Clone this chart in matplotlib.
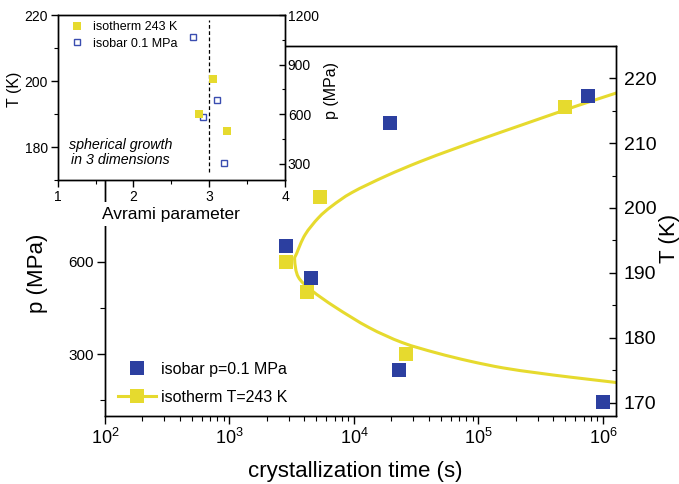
import numpy as np
import matplotlib
matplotlib.use("Agg")
import matplotlib.pyplot as plt
from matplotlib.lines import Line2D
from matplotlib.path import Path
from matplotlib.patches import PathPatch
from matplotlib.ticker import MultipleLocator, FixedLocator, LogLocator, NullFormatter

plt.rcParams['font.family'] = ['Liberation Sans', 'DejaVu Sans']
plt.rcParams['axes.linewidth'] = 1.0

BLUE = '#2c3fa0'
YELLOW = '#e6da2e'

# isobar p = 0.1 MPa, temperature on the right axis
isobar_time = [2.83e3, 4.54e3, 1.94e4, 2.30e4, 7.6e5, 1.0e6]
isobar_T = [194.2, 189.2, 213.1, 175.1, 217.2, 170.1]

# isotherm T = 243 K, pressure on the left axis
isotherm_time = [2.86e3, 4.17e3, 5.36e3, 2.62e4, 5.0e5]
isotherm_p = [600, 500, 810, 300, 1100]

# fitted isotherm curve (upper branch -> nose -> lower branch)
fit_time = [1.36e6, 7.50e5, 5.16e5, 2.16e5, 1.16e5, 6.24e4, 3.35e4, 1.80e4,
            9.66e3, 6.65e3, 5.19e3, 4.05e3, 3.47e3, 3.34e3, 3.57e3, 4.58e3,
            7.08e3, 1.32e4, 2.45e4, 4.57e4, 8.51e4, 1.58e5, 2.95e5, 5.50e5,
            1.20e6, 1.35e6]
fit_p = [1150, 1116, 1094, 1041, 1003, 964, 923, 877,
         824, 780, 742, 687, 627, 605, 550, 506,
         452, 386, 337, 304, 277, 255, 239, 225,
         209, 206]

# Avrami exponents
avrami_isotherm = [3.054, 2.869, 3.230]
avrami_isotherm_p = [810, 600, 500]
avrami_isobar = [2.790, 3.098, 2.922, 3.195]
avrami_isobar_T = [213.2, 194.2, 189.2, 175.2]


def smooth_log_path(xs, ys):
    # Catmull-Rom through the points as cubic Bezier pieces, built in log10(x)
    pts = np.column_stack([np.log10(xs), np.asarray(ys, float)])
    n = len(pts)
    verts, codes = [pts[0]], [Path.MOVETO]
    for i in range(n - 1):
        p0, p1 = pts[max(i - 1, 0)], pts[i]
        p2, p3 = pts[i + 1], pts[min(i + 2, n - 1)]
        verts += [p1 + (p2 - p0) / 6, p2 - (p3 - p1) / 6, p2]
        codes += [Path.CURVE4] * 3
    verts = np.array(verts)
    verts[:, 0] = 10 ** verts[:, 0]
    return Path(verts, codes)


fig = plt.figure(figsize=(6.79, 4.84), dpi=100)

# ---- main plot ----
ax = fig.add_axes([0.1546, 0.1411, 0.7521, 0.7645])
ax2 = ax.twinx()

ax.set_xscale('log')
ax.set_xlim(100, 1.265e6)
ax.set_ylim(100, 1300)
ax2.set_ylim(168, 225)

ax.add_patch(PathPatch(smooth_log_path(fit_time, fit_p), fc='none',
                       ec=YELLOW, lw=2.2, zorder=2))
ax.plot(isotherm_time, isotherm_p, 's', color=YELLOW, ms=9.6, mew=0, zorder=3)
ax2.plot(isobar_time, isobar_T, 's', color=BLUE, ms=9.6, mew=0, zorder=3)

ax.xaxis.set_major_locator(LogLocator(base=10, numticks=10))
ax.xaxis.set_minor_locator(LogLocator(base=10, subs=range(2, 10), numticks=20))
ax.xaxis.set_minor_formatter(NullFormatter())
ax.yaxis.set_major_locator(FixedLocator([300, 600]))
ax.yaxis.set_minor_locator(FixedLocator([150, 450]))
ax2.yaxis.set_major_locator(MultipleLocator(10))
ax2.yaxis.set_minor_locator(MultipleLocator(5))

ax.tick_params(axis='x', which='major', direction='out', length=6, width=1,
               labelsize=13, pad=3)
ax.tick_params(axis='x', which='minor', direction='out', length=3.5, width=0.8)
ax.tick_params(axis='y', which='major', direction='out', length=6, width=1,
               labelsize=11, pad=2)
ax.tick_params(axis='y', which='minor', direction='out', length=3.5, width=0.8)
ax2.tick_params(axis='y', which='major', direction='in', length=5, width=1,
                labelsize=14, pad=6)
ax2.tick_params(axis='y', which='minor', direction='in', length=3, width=0.8)

ax.set_xlabel('crystallization time (s)', fontsize=16)
ax.xaxis.set_label_coords(0.4895, -0.152)
ax.xaxis.label.set_va('center')
ax.set_ylabel('p (MPa)', fontsize=16)
ax.yaxis.set_label_coords(-0.133, 0.386)
ax.yaxis.label.set_va('center')
ax2.set_ylabel('T (K)', fontsize=16, rotation=90)
ax2.yaxis.set_label_coords(1.106, 0.48)
ax2.yaxis.label.set_va('center')

handles = [
    Line2D([], [], ls='none', marker='s', color=BLUE, ms=9.6, mew=0),
    Line2D([], [], color=YELLOW, lw=2.2, marker='s', ms=9.6, mew=0),
]
ax2.legend(handles, ['isobar p=0.1 MPa', 'isotherm T=243 K'],
           loc='upper left', bbox_to_anchor=(0.0255, 0.145), frameon=False,
           fontsize=11.5, handlelength=2.4, handletextpad=0.3,
           labelspacing=0.78, borderpad=0, borderaxespad=0)

# ---- inset: Avrami parameter ----
ins = fig.add_axes([0.085, 0.628, 0.3348, 0.341])
ins2 = ins.twinx()

ins.axvline(3, ymin=0.05, ymax=0.97, color='black', ls=(0, (3, 2)), lw=0.9)
op, = ins.plot(avrami_isobar, avrami_isobar_T, 's', mfc='none', mec='#3a4db0',
               ms=4.6, mew=1.0)
yp, = ins2.plot(avrami_isotherm, avrami_isotherm_p, 's', color=YELLOW, ms=5.6,
                mew=0)

ins.set_xlim(1, 4)
ins.set_ylim(170, 220)
ins2.set_ylim(200, 1200)
ins.xaxis.set_major_locator(MultipleLocator(1))
ins.xaxis.set_minor_locator(MultipleLocator(0.5))
ins.yaxis.set_major_locator(MultipleLocator(20))
ins.yaxis.set_minor_locator(MultipleLocator(10))
ins2.yaxis.set_major_locator(MultipleLocator(300))
ins2.yaxis.set_minor_locator(MultipleLocator(150))

ins.tick_params(which='major', direction='out', length=5, width=1,
                labelsize=10, pad=2)
ins.tick_params(which='minor', direction='out', length=3, width=0.8)
ins2.tick_params(which='major', direction='in', length=4, width=1,
                 labelsize=10, pad=2)
ins2.tick_params(which='minor', direction='in', length=2.5, width=0.8)

ins.set_xlabel('Avrami parameter', fontsize=12.5,
               bbox=dict(facecolor='white', edgecolor='none', pad=3))
ins.xaxis.set_label_coords(0.5, -0.206)
ins.xaxis.label.set_va('center')
ins.set_ylabel('T (K)', fontsize=11.5)
ins.yaxis.set_label_coords(-0.19, 0.548)
ins.yaxis.label.set_va('center')
ins2.set_ylabel('p (MPa)', fontsize=11.5)
ins2.yaxis.set_label_coords(1.2046, 0.54)
ins2.yaxis.label.set_va('center')

ins.text(1.83, 178.3, 'spherical growth\nin 3 dimensions', style='italic',
         fontsize=10.3, ha='center', va='center', linespacing=1.15)

ins2.legend([yp, op], ['isotherm 243 K', 'isobar 0.1 MPa'], loc='upper left',
            bbox_to_anchor=(0.056, 0.962), frameon=False, fontsize=9,
            handlelength=1.0, handletextpad=0.78, labelspacing=0.35,
            borderpad=0, borderaxespad=0)

fig.savefig('out.png', dpi=100)
